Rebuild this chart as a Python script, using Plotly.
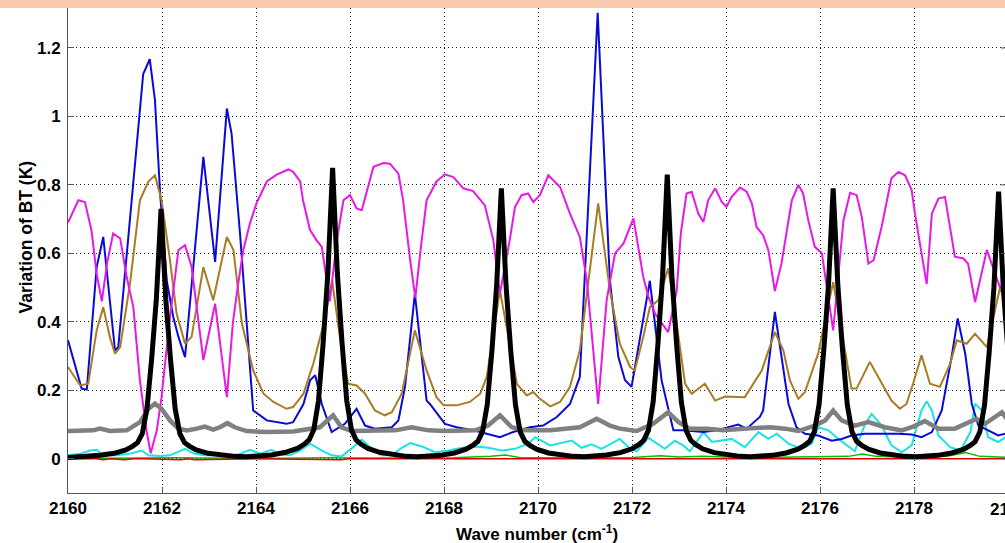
import plotly.graph_objects as go

# ---- spectra: wave number (cm-1) and BT variation (K) for each profile ----
magenta_x = [2160.00, 2160.22, 2160.36, 2160.50, 2160.61, 2160.72, 2160.83, 2160.96, 2161.11, 2161.25,
             2161.39, 2161.53, 2161.67, 2161.76, 2161.89, 2161.99, 2162.17, 2162.35, 2162.49, 2162.63,
             2162.88, 2163.13, 2163.38, 2163.51, 2163.62, 2163.73, 2163.87, 2164.01, 2164.23, 2164.44,
             2164.69, 2164.79, 2164.94, 2165.00, 2165.15, 2165.29, 2165.40, 2165.57, 2165.72, 2165.86,
             2166.00, 2166.14, 2166.25, 2166.50, 2166.71, 2166.85, 2167.03, 2167.13, 2167.28, 2167.39,
             2167.51, 2167.63, 2167.84, 2168.02, 2168.20, 2168.41, 2168.62, 2168.87, 2169.05, 2169.19,
             2169.40, 2169.51, 2169.65, 2169.79, 2169.90, 2170.04, 2170.22, 2170.47, 2170.68, 2170.89,
             2171.04, 2171.28, 2171.46, 2171.64, 2171.82, 2172.03, 2172.24, 2172.35, 2172.49, 2172.77,
             2172.95, 2173.04, 2173.16, 2173.27, 2173.41, 2173.52, 2173.62, 2173.77, 2173.91, 2174.01,
             2174.12, 2174.30, 2174.44, 2174.55, 2174.65, 2174.79, 2174.90, 2175.04, 2175.18, 2175.40,
             2175.54, 2175.64, 2175.75, 2175.89, 2176.04, 2176.28, 2176.50, 2176.64, 2176.78, 2176.89,
             2177.03, 2177.14, 2177.31, 2177.52, 2177.67, 2177.81, 2177.95, 2178.02, 2178.27, 2178.38,
             2178.52, 2178.66, 2178.87, 2179.05, 2179.15, 2179.30, 2179.55, 2179.65, 2179.83, 2180.00]
magenta_y = [0.690, 0.755, 0.750, 0.667, 0.540, 0.460, 0.570, 0.658, 0.644, 0.530,
             0.443, 0.229, 0.083, 0.016, 0.083, 0.180, 0.414, 0.610, 0.624, 0.560,
             0.288, 0.453, 0.180, 0.400, 0.510, 0.610, 0.687, 0.746, 0.810, 0.830,
             0.845, 0.838, 0.810, 0.755, 0.668, 0.638, 0.619, 0.460, 0.638, 0.755,
             0.770, 0.731, 0.726, 0.853, 0.864, 0.862, 0.833, 0.755, 0.580, 0.470,
             0.620, 0.755, 0.810, 0.831, 0.823, 0.790, 0.782, 0.740, 0.638, 0.483,
             0.640, 0.735, 0.770, 0.775, 0.750, 0.770, 0.828, 0.794, 0.716, 0.648,
             0.520, 0.160, 0.463, 0.600, 0.629, 0.702, 0.531, 0.473, 0.424, 0.370,
             0.490, 0.660, 0.775, 0.780, 0.716, 0.692, 0.755, 0.790, 0.750, 0.736,
             0.765, 0.792, 0.780, 0.746, 0.677, 0.653, 0.610, 0.490, 0.570, 0.755,
             0.800, 0.775, 0.697, 0.619, 0.600, 0.375, 0.697, 0.777, 0.770, 0.706,
             0.570, 0.580, 0.677, 0.819, 0.838, 0.828, 0.785, 0.716, 0.510, 0.716,
             0.760, 0.765, 0.590, 0.585, 0.570, 0.458, 0.610, 0.570, 0.500, 0.520]

blue_x = [2160.00, 2160.29, 2160.40, 2160.61, 2160.75, 2161.00, 2161.07, 2161.60, 2161.74, 2161.85,
          2161.96, 2162.10, 2162.24, 2162.35, 2162.49, 2162.88, 2163.13, 2163.38, 2163.48, 2163.66,
          2163.94, 2164.23, 2164.65, 2164.79, 2165.01, 2165.15, 2165.26, 2165.40, 2165.61, 2165.89,
          2166.14, 2166.32, 2166.53, 2166.89, 2167.03, 2167.17, 2167.38, 2167.63, 2167.70, 2167.91,
          2168.02, 2168.27, 2168.62, 2168.91, 2169.19, 2169.47, 2169.83, 2170.11, 2170.40, 2170.68,
          2170.89, 2171.27, 2171.53, 2171.71, 2171.85, 2171.99, 2172.38, 2172.63, 2172.88, 2173.09,
          2173.52, 2173.80, 2174.26, 2174.44, 2174.72, 2174.79, 2175.04, 2175.33, 2175.50, 2175.68,
          2175.96, 2176.25, 2176.46, 2176.67, 2176.96, 2177.67, 2177.95, 2178.16, 2178.38, 2178.59,
          2178.80, 2178.93, 2179.09, 2179.23, 2179.37, 2179.58, 2179.79, 2180.00]
blue_y = [0.346, 0.205, 0.202, 0.560, 0.648, 0.317, 0.326, 1.124, 1.167, 1.048,
          0.775, 0.521, 0.414, 0.356, 0.297, 0.882, 0.575, 1.023, 0.950, 0.658,
          0.141, 0.112, 0.102, 0.107, 0.160, 0.229, 0.244, 0.160, 0.078, 0.102,
          0.146, 0.097, 0.088, 0.092, 0.112, 0.210, 0.482, 0.170, 0.160, 0.122,
          0.102, 0.092, 0.083, 0.073, 0.063, 0.078, 0.092, 0.097, 0.122, 0.160,
          0.239, 1.303, 0.520, 0.297, 0.230, 0.210, 0.520, 0.229, 0.083, 0.083,
          0.078, 0.083, 0.100, 0.088, 0.122, 0.141, 0.429, 0.160, 0.092, 0.073,
          0.068, 0.053, 0.058, 0.068, 0.073, 0.073, 0.071, 0.063, 0.078, 0.141,
          0.297, 0.410, 0.307, 0.160, 0.097, 0.083, 0.068, 0.075]

brown_x = [2160.00, 2160.26, 2160.43, 2160.61, 2160.75, 2160.89, 2161.00, 2161.11, 2161.32, 2161.53,
           2161.71, 2161.85, 2161.99, 2162.17, 2162.31, 2162.49, 2162.63, 2162.88, 2163.09, 2163.38,
           2163.52, 2163.70, 2163.94, 2164.16, 2164.37, 2164.65, 2164.79, 2165.01, 2165.22, 2165.45,
           2165.62, 2165.79, 2165.96, 2166.14, 2166.32, 2166.53, 2166.74, 2166.89, 2167.10, 2167.38,
           2167.63, 2167.84, 2167.99, 2168.27, 2168.55, 2168.77, 2168.91, 2169.19, 2169.55, 2169.76,
           2169.90, 2170.04, 2170.26, 2170.47, 2170.68, 2170.89, 2171.28, 2171.53, 2171.74, 2171.96,
           2172.06, 2172.24, 2172.38, 2172.56, 2172.77, 2172.88, 2173.13, 2173.27, 2173.55, 2173.77,
           2173.98, 2174.40, 2174.76, 2175.04, 2175.22, 2175.36, 2175.54, 2175.68, 2175.96, 2176.28,
           2176.46, 2176.67, 2176.78, 2177.06, 2177.24, 2177.52, 2177.70, 2177.84, 2177.98, 2178.16,
           2178.34, 2178.55, 2178.77, 2178.91, 2179.12, 2179.30, 2179.55, 2179.83, 2180.00]
brown_y = [0.268, 0.214, 0.219, 0.375, 0.443, 0.356, 0.307, 0.326, 0.512, 0.755,
           0.810, 0.828, 0.755, 0.580, 0.424, 0.336, 0.356, 0.560, 0.463, 0.648,
           0.610, 0.395, 0.258, 0.190, 0.166, 0.146, 0.151, 0.190, 0.278, 0.400,
           0.520, 0.350, 0.219, 0.214, 0.190, 0.141, 0.127, 0.136, 0.190, 0.375,
           0.258, 0.180, 0.156, 0.156, 0.166, 0.190, 0.239, 0.492, 0.219, 0.185,
           0.195, 0.175, 0.153, 0.166, 0.210, 0.317, 0.746, 0.492, 0.336, 0.268,
           0.258, 0.356, 0.443, 0.463, 0.556, 0.463, 0.219, 0.190, 0.219, 0.170,
           0.182, 0.180, 0.258, 0.370, 0.317, 0.229, 0.175, 0.195, 0.307, 0.516,
           0.375, 0.205, 0.205, 0.283, 0.239, 0.170, 0.146, 0.160, 0.219, 0.302,
           0.219, 0.210, 0.278, 0.346, 0.336, 0.365, 0.326, 0.500, 0.440]

gray_x = [2160.00, 2160.26, 2160.54, 2160.68, 2160.89, 2161.25, 2161.53, 2161.71, 2161.85, 2161.99,
          2162.17, 2162.35, 2162.53, 2162.74, 2162.91, 2163.09, 2163.23, 2163.39, 2163.55, 2163.80,
          2164.23, 2164.79, 2165.04, 2165.36, 2165.64, 2165.82, 2166.03, 2166.60, 2166.96, 2167.31,
          2167.67, 2168.02, 2168.66, 2168.94, 2169.19, 2169.44, 2169.72, 2170.26, 2170.89, 2171.25,
          2171.53, 2171.74, 2172.10, 2172.45, 2172.77, 2172.99, 2173.23, 2173.59, 2173.94, 2174.37,
          2174.94, 2175.26, 2175.54, 2175.89, 2176.11, 2176.28, 2176.46, 2176.74, 2177.03, 2177.38,
          2177.74, 2177.95, 2178.23, 2178.52, 2178.87, 2179.33, 2179.51, 2179.87, 2180.00]
gray_y = [0.081, 0.082, 0.083, 0.088, 0.081, 0.083, 0.107, 0.146, 0.161, 0.146,
          0.112, 0.088, 0.083, 0.088, 0.094, 0.085, 0.092, 0.104, 0.092, 0.081,
          0.078, 0.080, 0.085, 0.092, 0.127, 0.092, 0.081, 0.083, 0.083, 0.092,
          0.083, 0.081, 0.083, 0.097, 0.127, 0.092, 0.083, 0.083, 0.092, 0.117,
          0.097, 0.088, 0.081, 0.102, 0.136, 0.107, 0.088, 0.088, 0.083, 0.088,
          0.092, 0.088, 0.081, 0.097, 0.112, 0.141, 0.112, 0.097, 0.107, 0.092,
          0.083, 0.092, 0.110, 0.088, 0.088, 0.117, 0.102, 0.136, 0.112]

cyan_x = [2160.00, 2160.26, 2160.47, 2160.61, 2160.75, 2161.04, 2161.32, 2161.57, 2161.71, 2161.96,
          2162.17, 2162.35, 2162.49, 2162.67, 2162.88, 2163.16, 2163.38, 2163.59, 2163.87, 2164.09,
          2164.33, 2164.51, 2164.72, 2164.94, 2165.15, 2165.40, 2165.61, 2165.82, 2166.03, 2166.25,
          2166.46, 2166.67, 2166.89, 2167.10, 2167.28, 2167.53, 2167.81, 2168.09, 2168.38, 2168.66,
          2168.94, 2169.23, 2169.51, 2169.79, 2169.94, 2170.26, 2170.47, 2170.72, 2170.93, 2171.14,
          2171.35, 2171.74, 2171.96, 2172.10, 2172.35, 2172.53, 2172.70, 2172.91, 2173.09, 2173.23,
          2173.52, 2173.70, 2173.91, 2174.12, 2174.40, 2174.69, 2174.90, 2175.08, 2175.33, 2175.61,
          2175.82, 2175.96, 2176.18, 2176.39, 2176.74, 2176.96, 2177.10, 2177.31, 2177.52, 2177.74,
          2177.95, 2178.16, 2178.27, 2178.38, 2178.52, 2178.77, 2178.99, 2179.20, 2179.30, 2179.44,
          2179.58, 2179.79, 2180.00]
cyan_y = [0.010, 0.015, 0.024, 0.026, 0.010, 0.010, 0.015, 0.024, 0.010, 0.008,
          0.010, 0.022, 0.029, 0.016, 0.010, 0.010, 0.013, 0.010, 0.026, 0.015,
          0.026, 0.013, 0.010, 0.024, 0.044, 0.024, 0.010, 0.007, 0.029, 0.056,
          0.029, 0.010, 0.010, 0.032, 0.046, 0.036, 0.019, 0.024, 0.032, 0.036,
          0.032, 0.024, 0.029, 0.044, 0.063, 0.039, 0.046, 0.053, 0.032, 0.042,
          0.029, 0.058, 0.029, 0.022, 0.061, 0.044, 0.029, 0.053, 0.039, 0.022,
          0.078, 0.049, 0.053, 0.058, 0.034, 0.078, 0.058, 0.073, 0.044, 0.029,
          0.044, 0.092, 0.083, 0.058, 0.022, 0.102, 0.131, 0.097, 0.039, 0.019,
          0.039, 0.141, 0.168, 0.141, 0.068, 0.034, 0.024, 0.078, 0.161, 0.141,
          0.063, 0.049, 0.068]

green_x = [2160.00, 2161.50, 2162.30, 2164.00, 2165.50, 2166.50, 2168.20, 2169.00, 2169.30, 2169.60,
           2170.50, 2172.00, 2172.60, 2173.00, 2173.50, 2174.50, 2175.30, 2176.60, 2176.90, 2177.20,
           2178.00, 2178.70, 2179.10, 2179.40, 2180.00]
green_y = [0.001, 0.002, 0.003, 0.001, 0.003, 0.002, 0.003, 0.007, 0.011, 0.004,
           0.003, 0.004, 0.009, 0.005, 0.007, 0.003, 0.005, 0.007, 0.014, 0.007,
           0.004, 0.007, 0.018, 0.007, 0.004]

red_x = [2160.00, 2160.60, 2160.75, 2160.90, 2161.20, 2161.40, 2161.60, 2162.40, 2162.55, 2162.70,
         2164.00, 2165.80, 2166.00, 2180.00]
red_y = [0.000, 0.000, -0.003, 0.000, -0.003, 0.000, 0.000, -0.003, 0.000, -0.003,
         0.000, -0.003, 0.000, 0.000]

black_x = [2160.00, 2160.40, 2160.68, 2160.98, 2161.23, 2161.38, 2161.48, 2161.58, 2161.68, 2161.78,
           2161.88, 2161.98, 2162.08, 2162.18, 2162.28, 2162.38, 2162.48, 2162.58, 2162.73, 2162.98,
           2163.28, 2163.55, 2163.80,
           2164.05, 2164.33, 2164.63, 2164.88, 2165.03, 2165.13, 2165.23, 2165.33, 2165.43, 2165.53,
           2165.63, 2165.73, 2165.83, 2165.93, 2166.03, 2166.13, 2166.23, 2166.38, 2166.63, 2166.93,
           2167.20, 2167.43,
           2167.92, 2168.22, 2168.47, 2168.62, 2168.72, 2168.82, 2168.92, 2169.02, 2169.12, 2169.22,
           2169.32, 2169.42, 2169.52, 2169.62, 2169.72, 2169.82, 2169.97, 2170.22, 2170.52, 2170.75,
           2170.99,
           2171.45, 2171.75, 2172.00, 2172.15, 2172.25, 2172.35, 2172.45, 2172.55, 2172.65, 2172.75,
           2172.85, 2172.95, 2173.05, 2173.15, 2173.25, 2173.35, 2173.50, 2173.75, 2174.05, 2174.30,
           2174.52,
           2174.98, 2175.28, 2175.53, 2175.68, 2175.78, 2175.88, 2175.98, 2176.08, 2176.18, 2176.28,
           2176.38, 2176.48, 2176.58, 2176.68, 2176.78, 2176.88, 2177.03, 2177.28, 2177.58, 2177.80,
           2178.04,
           2178.50, 2178.80, 2179.05, 2179.20, 2179.30, 2179.40, 2179.50, 2179.60, 2179.70, 2179.80,
           2179.90, 2180.00]
black_y = [0.004, 0.006, 0.010, 0.016, 0.026, 0.037, 0.047, 0.073, 0.146, 0.292,
           0.467, 0.730, 0.467, 0.292, 0.146, 0.073, 0.047, 0.037, 0.026, 0.016,
           0.010, 0.007, 0.006,
           0.008, 0.011, 0.019, 0.030, 0.043, 0.055, 0.085, 0.170, 0.340, 0.544,
           0.850, 0.544, 0.340, 0.170, 0.085, 0.055, 0.043, 0.030, 0.019, 0.011,
           0.007, 0.006,
           0.010, 0.017, 0.028, 0.040, 0.051, 0.079, 0.158, 0.316, 0.506, 0.790,
           0.506, 0.316, 0.158, 0.079, 0.051, 0.040, 0.028, 0.017, 0.010, 0.007,
           0.006,
           0.011, 0.018, 0.029, 0.042, 0.054, 0.083, 0.166, 0.332, 0.531, 0.830,
           0.531, 0.332, 0.166, 0.083, 0.054, 0.042, 0.029, 0.018, 0.011, 0.007,
           0.006,
           0.010, 0.017, 0.028, 0.040, 0.051, 0.079, 0.158, 0.316, 0.506, 0.790,
           0.506, 0.316, 0.158, 0.079, 0.051, 0.040, 0.028, 0.017, 0.010, 0.007,
           0.006,
           0.010, 0.017, 0.027, 0.039, 0.050, 0.078, 0.156, 0.312, 0.499, 0.780,
           0.499, 0.312]

x_ticks = [2160, 2162, 2164, 2166, 2168, 2170, 2172, 2174, 2176, 2178]
x_tick_text = ["2160", "2162", "2164", "2166", "2168", "2170", "2172", "2174", "2176", "2178"]
y_ticks = [0, 0.2, 0.4, 0.6, 0.8, 1.0, 1.2]
y_tick_text = ["0", "0.2", "0.4", "0.6", "0.8", "1", "1.2"]
x_title = "Wave number (cm<sup>-1</sup>)"
y_title = "Variation of BT (K)"
edge_tick_text = "2180"

# ---- figure geometry ----
W, H = 1005, 543
M_L, M_R, M_T, M_B = 68, 0, 8, 50
PX_PER_X = 47.0
X_MIN = 2160
X_MAX = X_MIN + (W - M_L - M_R) / PX_PER_X
Y_MIN = -0.1
Y_MAX = 1.3167

FONT = "Liberation Sans, Arial, Helvetica, sans-serif"
AXIS_GREY = "#555555"

# drawing order: bottom to top
series = [
    (green_x, green_y, "#00c000", 1.5),
    (red_x, red_y, "#e00000", 1.5),
    (cyan_x, cyan_y, "#19e3e3", 2.0),
    (blue_x, blue_y, "#0a0ad8", 2.0),
    (brown_x, brown_y, "#a87c22", 2.0),
    (magenta_x, magenta_y, "#e619e6", 2.0),
    (gray_x, gray_y, "#808080", 4.5),
    (black_x, black_y, "#000000", 5.0),
]

fig = go.Figure()
for xs, ys, col, lw in series:
    fig.add_trace(go.Scatter(x=xs, y=ys, mode="lines",
                             line=dict(color=col, width=lw),
                             hoverinfo="skip", showlegend=False))

tick_font = dict(family=FONT, size=17, color="black", weight="bold")

fig.update_xaxes(
    range=[X_MIN, X_MAX], tickvals=x_ticks, ticktext=x_tick_text,
    showgrid=True, gridcolor="#222222", gridwidth=1, griddash="1px,3px",
    showline=True, linecolor=AXIS_GREY, linewidth=1,
    ticks="inside", ticklen=6, tickcolor=AXIS_GREY,
    zeroline=False, tickfont=tick_font,
)
fig.update_yaxes(
    range=[Y_MIN, Y_MAX], tickvals=y_ticks, ticktext=y_tick_text,
    showgrid=True, gridcolor="#222222", gridwidth=1, griddash="1px,3px",
    showline=True, linecolor=AXIS_GREY, linewidth=1,
    ticks="inside", ticklen=6, tickcolor=AXIS_GREY,
    zeroline=False, tickfont=tick_font, ticklabelstandoff=3,
)

shapes = [
    # header band above the axes
    dict(type="rect", xref="paper", yref="paper", x0=-1, x1=2, y0=1, y1=1 + M_T / (H - M_T - M_B),
         fillcolor="#F8CBAD", line=dict(width=0), layer="above"),
]
# inward ticks on the right-hand box edge
for yv in y_ticks:
    shapes.append(dict(type="line", xref="paper", yref="y", x0=1 - 4 / (W - M_L - M_R), x1=1,
                       y0=yv, y1=yv, line=dict(color=AXIS_GREY, width=1)))

annotations = [
    dict(text=y_title, xref="paper", yref="paper", x=0, y=0.5, xshift=-(M_L - 25), yshift=13,
         textangle=-90, showarrow=False, xanchor="center", yanchor="middle",
         font=dict(family=FONT, size=17.5, color="black", weight="bold")),
    dict(text=x_title, xref="paper", yref="paper", x=0.5, y=0, yshift=-40,
         showarrow=False, xanchor="center", yanchor="middle",
         font=dict(family=FONT, size=17, color="black", weight="bold")),
    dict(text=edge_tick_text, xref="paper", yref="paper", x=1, y=0, xshift=4, yshift=-16,
         showarrow=False, xanchor="center", yanchor="middle",
         font=tick_font),
]

fig.update_layout(
    width=W, height=H,
    margin=dict(l=M_L, r=M_R, t=M_T, b=M_B, pad=0),
    paper_bgcolor="white", plot_bgcolor="white",
    shapes=shapes, annotations=annotations,
    showlegend=False,
)

fig.write_html("out.html", config={"displayModeBar": False})
